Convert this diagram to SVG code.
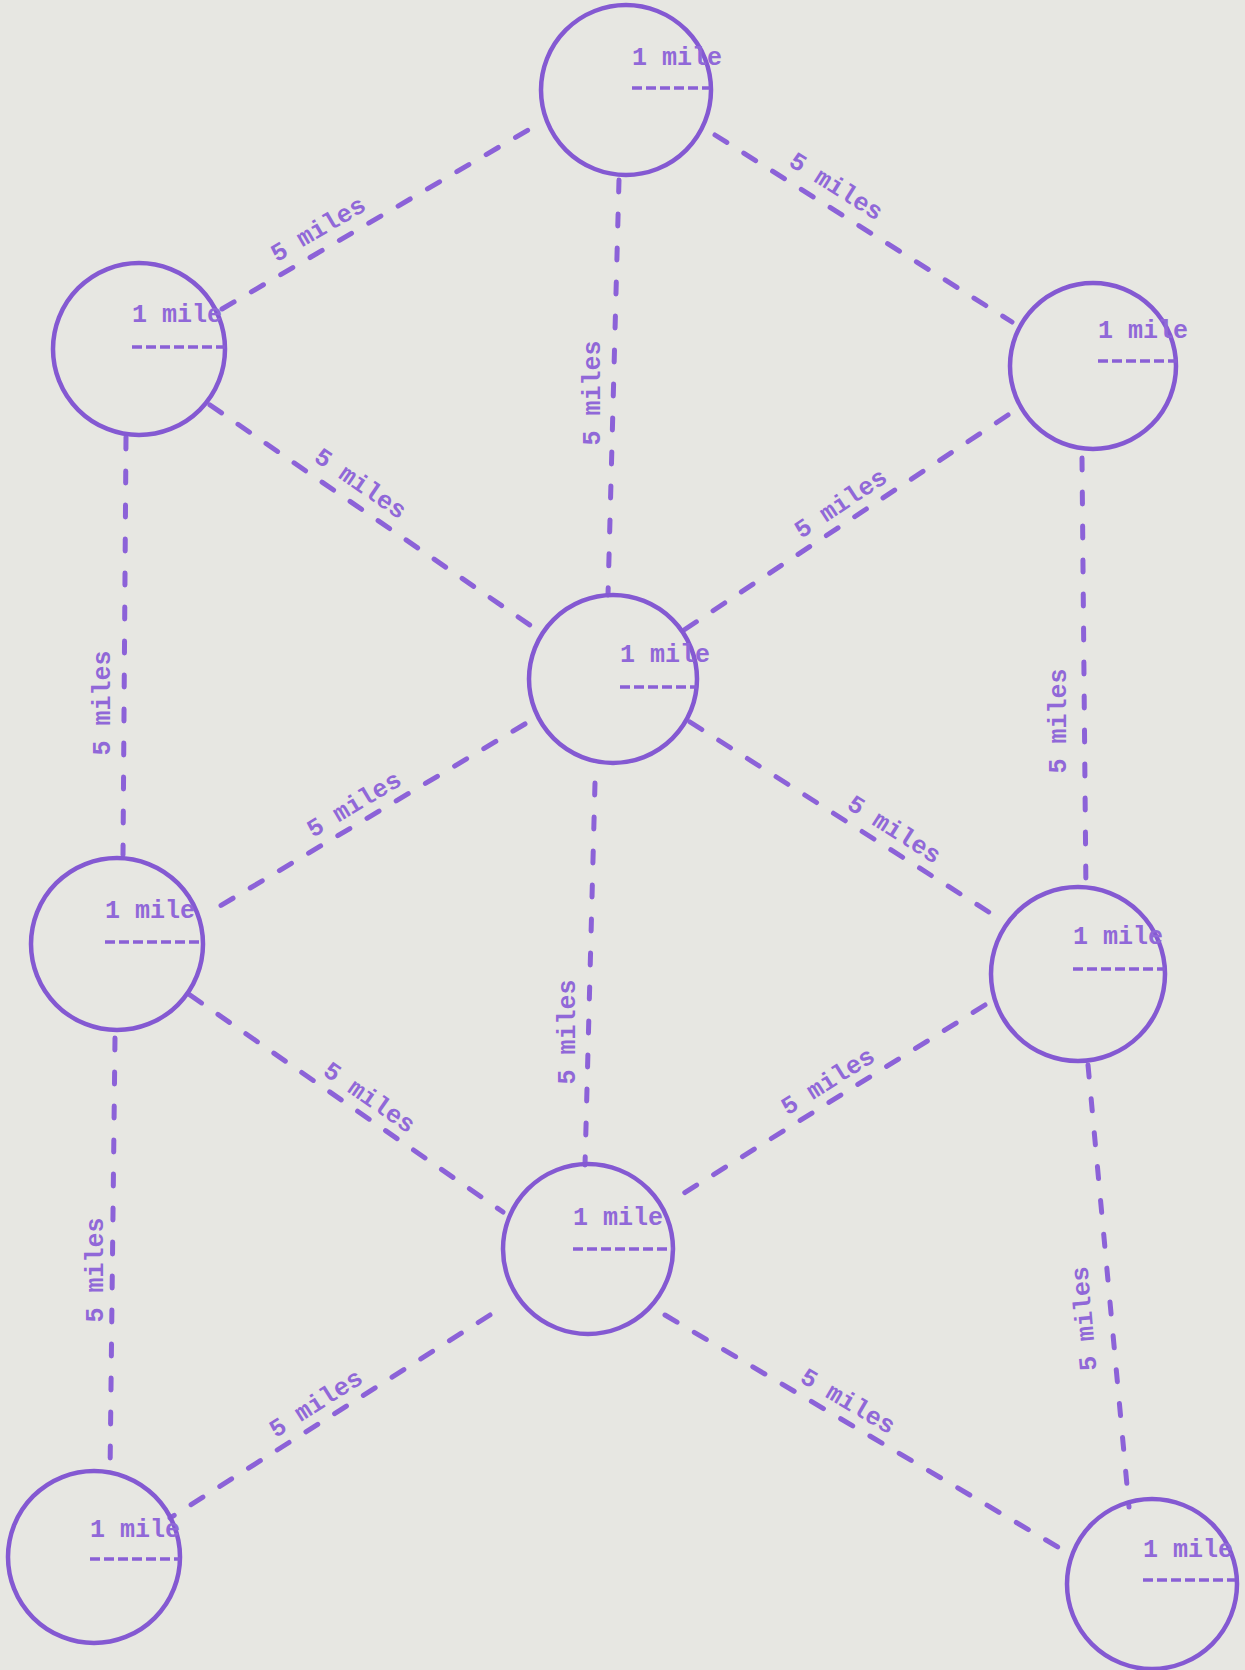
<svg xmlns="http://www.w3.org/2000/svg" width="1245" height="1670" viewBox="0 0 1245 1670">
<style>
.bg{fill:#e7e7e2}
.node circle{fill:none;stroke:#8459d2;stroke-width:4.5}
.node text,.lbl{font-family:"Liberation Mono","Courier New",monospace;font-size:25px;font-weight:bold;fill:#9068d8}
.rad{stroke:#8a60d6;stroke-width:3.5;stroke-dasharray:10 4;fill:none}
.edge{stroke:#8c62d8;stroke-width:5;stroke-linecap:round;stroke-dasharray:14 20;fill:none}
.v{stroke-dasharray:12 22}
</style>
<rect class="bg" x="0" y="0" width="1245" height="1670"/>
<g id="connectors">
<line class="edge" x1="222" y1="309" x2="535" y2="126"/>
<line class="edge" x1="715" y1="135" x2="1012" y2="322"/>
<line class="edge v" x1="619" y1="180" x2="608" y2="595"/>
<line class="edge" x1="210" y1="405" x2="540" y2="632"/>
<line class="edge" x1="1008" y1="415" x2="684" y2="630"/>
<line class="edge v" x1="126" y1="437" x2="123" y2="855"/>
<line class="edge v" x1="1082" y1="458" x2="1086" y2="895"/>
<line class="edge" x1="525" y1="724" x2="210" y2="912"/>
<line class="edge" x1="690" y1="722" x2="995" y2="916"/>
<line class="edge v" x1="595" y1="783" x2="585" y2="1165"/>
<line class="edge" x1="190" y1="995" x2="503" y2="1212"/>
<line class="edge" x1="985" y1="1005" x2="668" y2="1203"/>
<line class="edge v" x1="115" y1="1038" x2="110" y2="1475"/>
<line class="edge v" x1="1088" y1="1065" x2="1129" y2="1507"/>
<line class="edge" x1="490" y1="1315" x2="170" y2="1518"/>
<line class="edge" x1="665" y1="1315" x2="1068" y2="1553"/>
<text class="lbl" x="322" y="236" text-anchor="middle" transform="rotate(-30.3 322 236)">5 miles</text>
<text class="lbl" x="832" y="193" text-anchor="middle" transform="rotate(32.2 832 193)">5 miles</text>
<text class="lbl" x="600" y="393" text-anchor="middle" transform="rotate(-90 600 393)">5 miles</text>
<text class="lbl" x="356" y="490" text-anchor="middle" transform="rotate(34.5 356 490)">5 miles</text>
<text class="lbl" x="845" y="510" text-anchor="middle" transform="rotate(-33.6 845 510)">5 miles</text>
<text class="lbl" x="110" y="703" text-anchor="middle" transform="rotate(-90 110 703)">5 miles</text>
<text class="lbl" x="1066" y="721" text-anchor="middle" transform="rotate(-90 1066 721)">5 miles</text>
<text class="lbl" x="358" y="811" text-anchor="middle" transform="rotate(-30.8 358 811)">5 miles</text>
<text class="lbl" x="890" y="836" text-anchor="middle" transform="rotate(32.5 890 836)">5 miles</text>
<text class="lbl" x="575" y="1032" text-anchor="middle" transform="rotate(-90 575 1032)">5 miles</text>
<text class="lbl" x="365" y="1104" text-anchor="middle" transform="rotate(34.7 365 1104)">5 miles</text>
<text class="lbl" x="832" y="1088" text-anchor="middle" transform="rotate(-32 832 1088)">5 miles</text>
<text class="lbl" x="103" y="1270" text-anchor="middle" transform="rotate(-90 103 1270)">5 miles</text>
<text class="lbl" x="1092" y="1318" text-anchor="middle" transform="rotate(-95 1092 1318)">5 miles</text>
<text class="lbl" x="320" y="1410" text-anchor="middle" transform="rotate(-32.4 320 1410)">5 miles</text>
<text class="lbl" x="844" y="1408" text-anchor="middle" transform="rotate(30.6 844 1408)">5 miles</text>
</g>
<g id="node-top" class="node"><circle cx="626" cy="90" r="85"/><text x="632" y="65">1 mile</text><line class="rad" x1="632" y1="88" x2="710" y2="88"/></g>
<g id="node-ul" class="node"><circle cx="139" cy="349" r="86"/><text x="132" y="322">1 mile</text><line class="rad" x1="132" y1="347" x2="225" y2="347"/></g>
<g id="node-ur" class="node"><circle cx="1093" cy="366" r="83"/><text x="1098" y="338">1 mile</text><line class="rad" x1="1098" y1="361" x2="1177" y2="361"/></g>
<g id="node-center" class="node"><circle cx="613" cy="679" r="84"/><text x="620" y="662">1 mile</text><line class="rad" x1="620" y1="687" x2="697" y2="687"/></g>
<g id="node-ml" class="node"><circle cx="117" cy="944" r="86"/><text x="105" y="918">1 mile</text><line class="rad" x1="105" y1="942" x2="200" y2="942"/></g>
<g id="node-mr" class="node"><circle cx="1078" cy="974" r="87"/><text x="1073" y="944">1 mile</text><line class="rad" x1="1073" y1="969" x2="1165" y2="969"/></g>
<g id="node-lc" class="node"><circle cx="588" cy="1249" r="85"/><text x="573" y="1225">1 mile</text><line class="rad" x1="573" y1="1249" x2="673" y2="1249"/></g>
<g id="node-bl" class="node"><circle cx="94" cy="1557" r="86"/><text x="90" y="1537">1 mile</text><line class="rad" x1="90" y1="1559" x2="180" y2="1559"/></g>
<g id="node-br" class="node"><circle cx="1152" cy="1584" r="85"/><text x="1143" y="1557">1 mile</text><line class="rad" x1="1143" y1="1580" x2="1235" y2="1580"/></g>
</svg>
